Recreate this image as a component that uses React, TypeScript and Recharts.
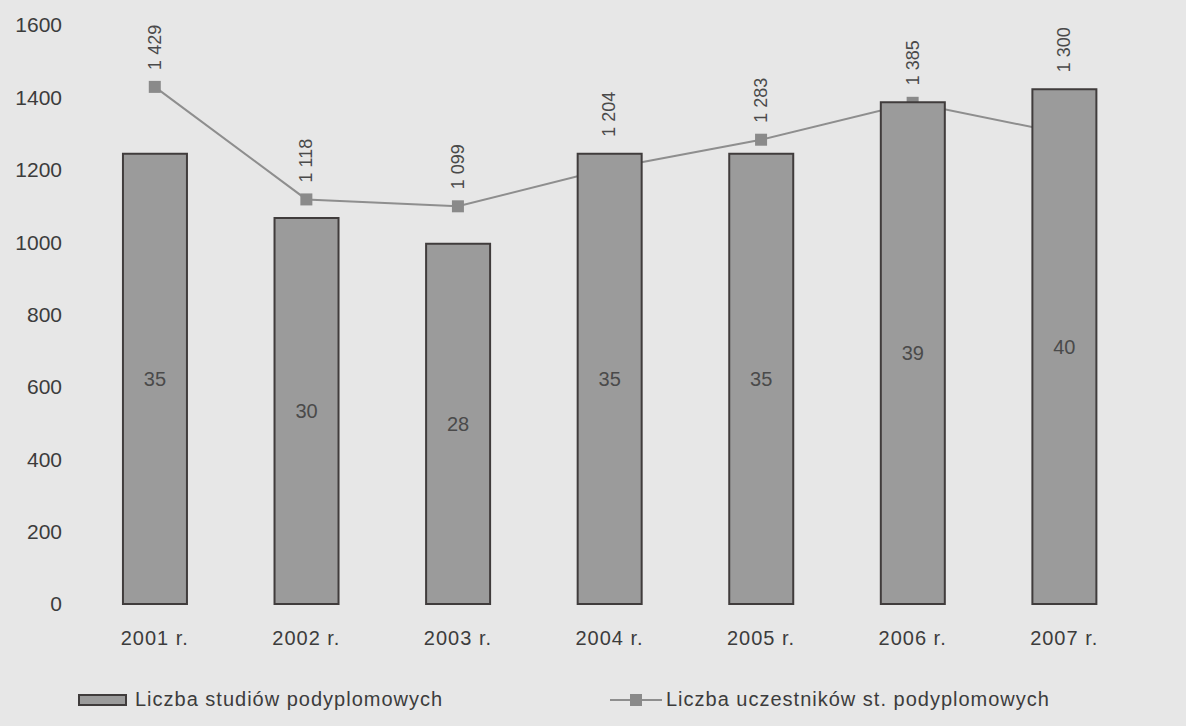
import { ComposedChart, Bar, Line, XAxis, YAxis, LabelList } from 'recharts'

const years = ['2001 r.', '2002 r.', '2003 r.', '2004 r.', '2005 r.', '2006 r.', '2007 r.']
const studiesCount = [35, 30, 28, 35, 35, 39, 40]
const participants = [1429, 1118, 1099, 1204, 1283, 1385, 1300]
const leftTicks = [0, 200, 400, 600, 800, 1000, 1200, 1400, 1600]
const rightTicks = [0, 5, 10, 15, 20, 25, 30, 35, 40, 45]

const W = 1186
const H = 726
const TOP = 25
const BOTTOM = 604
const PLOT_H = BOTTOM - TOP
const LEFT_W = 79
const RIGHT_W = 46
const BG = '#e7e7e7'
const TXT = '#3c3c3c'
const FONT = '"Liberation Sans", Arial, sans-serif'

const data = years.map((year, i) => ({
  year,
  studies: studiesCount[i],
  people: participants[i],
}))

const fmt = (v: number) => String(v).replace(/\B(?=(\d{3})+(?!\d))/g, ' ')

// line values sit above the higher of point / bar top, rotated
const PeopleLabel = (props: any) => {
  const x = props.x ?? props.viewBox?.x
  const y = props.y ?? props.viewBox?.y
  const i = props.index
  const barTop = TOP + PLOT_H * (1 - studiesCount[i] / 45)
  const base = Math.min(y, barTop) - 17
  return (
    <text
      x={x}
      y={base}
      transform={`rotate(-90 ${x} ${base})`}
      textAnchor="start"
      dominantBaseline="central"
      fontSize={18}
      fill="#4a4a4a"
      fontFamily={FONT}
    >
      {fmt(props.value)}
    </text>
  )
}

const SquareDot = (props: any) => {
  const { cx, cy, index } = props
  return <rect key={`d${index}`} x={cx - 6} y={cy - 6} width={12} height={12} fill="#8a8a8a" />
}

export default function App() {
  const tick = { fontSize: 21, fill: TXT, fontFamily: FONT }
  const layer: any = { position: 'absolute', left: 0, top: 0 }
  return (
    <div style={{ position: 'absolute', left: 0, top: 0, width: W, height: H, background: BG, fontFamily: FONT }}>
      {/* back layer: axes + line (the bars cover it) */}
      <div style={layer}>
        <ComposedChart
          width={W}
          height={H}
          data={data}
          margin={{ top: TOP, right: 0, bottom: 0, left: 0 }}
          barCategoryGap="29%"
        >
          <XAxis
            dataKey="year"
            scale="band"
            axisLine={false}
            tickLine={false}
            tickSize={0}
            tickMargin={27}
            height={H - BOTTOM}
            tick={{ fontSize: 20, fill: TXT, fontFamily: FONT, letterSpacing: 1 }}
          />
          <YAxis
            yAxisId="left"
            orientation="left"
            domain={[0, 1600]}
            ticks={leftTicks}
            width={LEFT_W}
            axisLine={false}
            tickLine={false}
            tickSize={0}
            tickMargin={17}
            tick={tick}
          />
          <YAxis
            yAxisId="right"
            orientation="right"
            domain={[0, 45]}
            ticks={rightTicks}
            width={RIGHT_W}
            axisLine={false}
            tickLine={false}
            tickSize={0}
            tickMargin={6}
            tick={tick}
          />
          <Line
            yAxisId="left"
            dataKey="people"
            type="linear"
            stroke="#8e8e8e"
            strokeWidth={2}
            dot={SquareDot}
            activeDot={false}
            isAnimationActive={false}
          >
            <LabelList dataKey="people" content={PeopleLabel} />
          </Line>
        </ComposedChart>
      </div>

      {/* front layer: bars on the right axis */}
      <div style={layer}>
        <ComposedChart
          width={W}
          height={H}
          data={data}
          margin={{ top: TOP, right: RIGHT_W, bottom: H - BOTTOM, left: LEFT_W }}
          barCategoryGap="29%"
        >
          <XAxis dataKey="year" hide />
          <YAxis yAxisId="right" domain={[0, 45]} hide />
          <Bar
            yAxisId="right"
            dataKey="studies"
            fill="#9b9b9b"
            stroke="#403c3c"
            strokeWidth={2}
            isAnimationActive={false}
          >
            <LabelList
              dataKey="studies"
              position="center"
              fill="#4a4a4a"
              fontSize={20}
              fontFamily={FONT}
            />
          </Bar>
        </ComposedChart>
      </div>

      <div style={{ position: 'absolute', left: 78, top: 694, width: 49, height: 12, background: '#9b9b9b', border: '2px solid #403c3c', boxSizing: 'border-box' }} />
      <div style={{ position: 'absolute', left: 135, top: 688, fontSize: 20, color: TXT, letterSpacing: 1, whiteSpace: 'nowrap' }}>
        Liczba studiów podyplomowych
      </div>
      <svg style={{ position: 'absolute', left: 610, top: 693 }} width={52} height={14}>
        <line x1={0} y1={7} x2={52} y2={7} stroke="#8e8e8e" strokeWidth={2} />
        <rect x={20} y={1} width={12} height={12} fill="#8a8a8a" />
      </svg>
      <div style={{ position: 'absolute', left: 666, top: 688, fontSize: 20, color: TXT, letterSpacing: 1, whiteSpace: 'nowrap' }}>
        Liczba uczestników st. podyplomowych
      </div>
    </div>
  )
}
